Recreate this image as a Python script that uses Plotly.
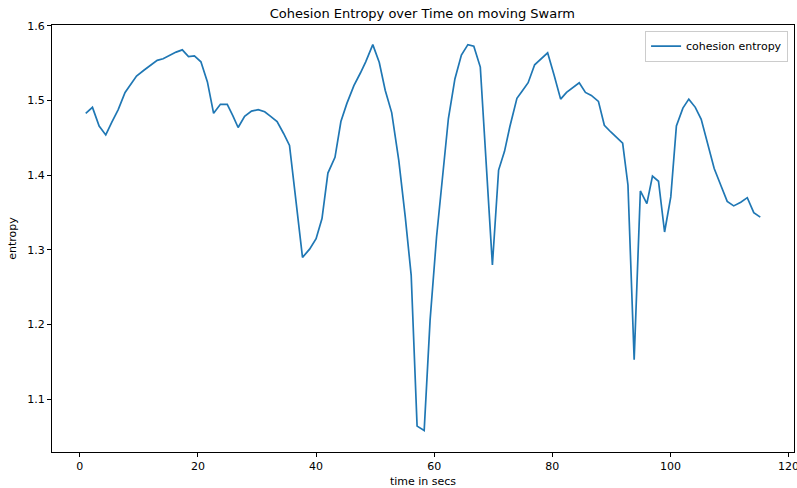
import plotly.graph_objects as go

time_secs = [1.0, 2.14, 3.27, 4.39, 5.4, 6.5, 7.66, 8.6, 9.6, 10.9, 12.0, 13.1, 14.1, 15.2, 16.3,
             17.35, 18.4, 19.4, 20.5, 21.6, 22.65, 23.8, 24.96, 25.9, 26.8, 27.9, 29.07, 30.2,
             31.3, 32.3, 33.4, 34.5, 35.5, 36.6, 37.7, 38.9, 40.0, 41.0, 42.0, 43.2, 44.2, 45.2,
             46.4, 47.5, 48.4, 49.6, 50.7, 51.7, 52.8, 54.0, 55.1, 56.1, 57.1, 58.3, 59.3, 60.4,
             61.5, 62.4, 63.5, 64.6, 65.7, 66.7, 67.8, 68.8, 69.85, 70.9, 71.9, 72.8, 74.0, 74.9,
             75.9, 77.0, 78.1, 79.2, 80.3, 81.4, 82.4, 83.5, 84.55, 85.6, 86.6, 87.8, 88.8, 89.9,
             90.9, 91.9, 92.8, 93.85, 94.9, 96.0, 96.95, 97.97, 99.0, 100.05, 101.0, 102.1, 103.1,
             104.2, 105.2, 106.4, 107.4, 108.5, 109.6, 110.7, 111.9, 113.0, 114.1, 115.2]

cohesion_entropy = [1.483, 1.491, 1.466, 1.454, 1.471, 1.488, 1.511, 1.522, 1.533, 1.541, 1.548,
                    1.554, 1.556, 1.561, 1.565, 1.568, 1.559, 1.560, 1.552, 1.525, 1.483, 1.495,
                    1.495, 1.480, 1.464, 1.479, 1.486, 1.488, 1.485, 1.479, 1.472, 1.456, 1.440,
                    1.365, 1.290, 1.301, 1.315, 1.342, 1.403, 1.424, 1.472, 1.496, 1.520, 1.537,
                    1.552, 1.575, 1.551, 1.514, 1.484, 1.420, 1.344, 1.266, 1.064, 1.058, 1.206,
                    1.318, 1.403, 1.476, 1.529, 1.561, 1.575, 1.573, 1.545, 1.420, 1.280, 1.407,
                    1.432, 1.465, 1.503, 1.513, 1.524, 1.548, 1.556, 1.564, 1.534, 1.502, 1.511,
                    1.518, 1.524, 1.511, 1.507, 1.499, 1.467, 1.458, 1.451, 1.443, 1.387, 1.153,
                    1.379, 1.362, 1.399, 1.392, 1.324, 1.371, 1.466, 1.490, 1.502, 1.491, 1.475,
                    1.439, 1.409, 1.387, 1.365, 1.359, 1.364, 1.370, 1.350, 1.344]

x_ticks = [0, 20, 40, 60, 80, 100, 120]
y_ticks = [1.1, 1.2, 1.3, 1.4, 1.5, 1.6]
y_tick_labels = ["1.1", "1.2", "1.3", "1.4", "1.5", "1.6"]

FONT = "DejaVu Sans"

fig = go.Figure()
fig.add_trace(go.Scatter(x=time_secs, y=cohesion_entropy, mode="lines",
                         name="cohesion entropy",
                         line=dict(color="#1f77b4", width=1.7)))

axis_common = dict(showline=True, linecolor="black", linewidth=1, mirror=True,
                   ticks="outside", ticklen=4, tickcolor="black", tickwidth=1,
                   showgrid=False, zeroline=False, automargin=False,
                   tickfont=dict(family=FONT, size=11, color="black"))

fig.update_layout(
    width=797, height=488,
    margin=dict(l=52, r=3, t=25, b=36),
    paper_bgcolor="white", plot_bgcolor="white",
    font=dict(family=FONT, size=11, color="black"),
    title=dict(text="Cohesion Entropy over Time on moving Swarm",
               font=dict(family=FONT, size=13, color="black"),
               x=0.53, xanchor="center", y=0.972, yanchor="middle"),
    xaxis=dict(range=[-4.71, 120.91], tickvals=x_ticks, ticklabeloverflow="allow",
               title=dict(text="time in secs", standoff=6,
                          font=dict(family=FONT, size=11)),
               **axis_common),
    yaxis=dict(range=[1.0293, 1.6013], tickvals=y_ticks, ticktext=y_tick_labels,
               title=dict(text="entropy", standoff=8,
                          font=dict(family=FONT, size=11)),
               **axis_common),
    legend=dict(x=0.992, y=0.987, xanchor="right", yanchor="top",
                bordercolor="#cccccc", borderwidth=1, bgcolor="rgba(255,255,255,0.8)",
                font=dict(family=FONT, size=11)),
    showlegend=True,
)

fig.write_html("out.html")
